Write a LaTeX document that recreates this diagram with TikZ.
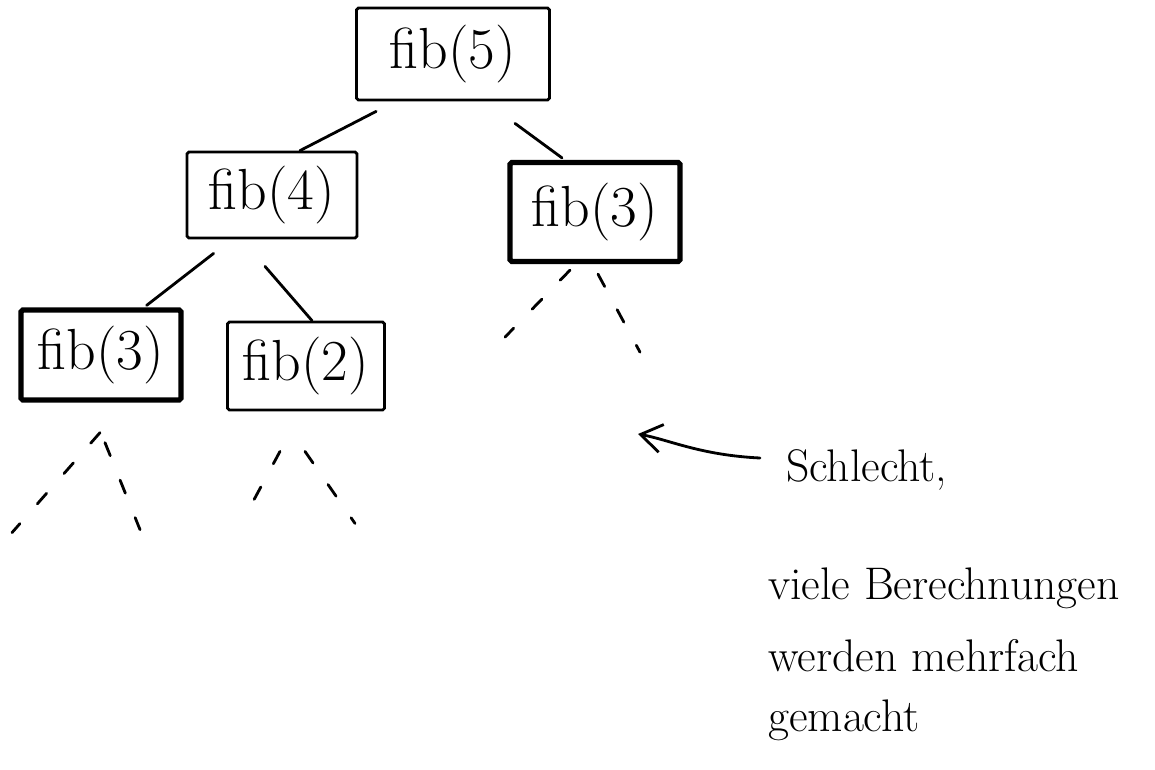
\documentclass[tikz,border=0pt]{standalone}
\usetikzlibrary{calc,arrows.meta}
\begin{document}
\begin{tikzpicture}[x=0.02cm,y=-0.02cm,
  callbox/.style={draw,line width=1.6pt,rounded corners=1pt,inner sep=0pt,font=\fontsize{33}{37}\selectfont},
  hot/.style={callbox,line width=3pt},
  edge/.style={line width=1.6pt,line cap=round},
  todo/.style={line width=1.6pt,line cap=round,dash pattern=on 8pt off 15pt},
  note/.style={anchor=west,font=\fontsize{26}{30}\selectfont}]
\useasboundingbox (0,0) rectangle (1155,769);
\node[callbox,minimum width=3.86cm,minimum height=1.84cm] (f5) at (453,54) {fib(5)};
\node[callbox,minimum width=3.4cm,minimum height=1.72cm] (f4) at (272,195) {fib(4)};
\node[hot,minimum width=3.4cm,minimum height=1.98cm] (f3r) at (595,212) {fib(3)};
\node[hot,minimum width=3.2cm,minimum height=1.8cm] (f3l) at (101,355) {fib(3)};
\node[callbox,minimum width=3.14cm,minimum height=1.76cm] (f2) at (306,366) {fib(2)};

\draw[edge] ($(f5.south west)+(21,10)$) -- ($(f4.north)+(28,0)$);
\draw[edge] ($(f5.south)+(62,22)$) -- ($(f3r.north)+(-33,-2)$);
\draw[edge] ($(f4.south west)+(28,14)$) -- ($(f3l.north east)+(-37,-2)$);
\draw[edge] ($(f4.south)+(-7,27)$) -- ($(f2.north)+(6,0)$);

\draw[todo] ($(f3r.south)+(-25,6)$) -- ($(f3r.south)+(-90,73)$);
\draw[todo] ($(f3r.south)+(3,10)$) -- ($(f3r.south)+(45,88)$);
\draw[todo] ($(f3l.south)+(-1,30)$) -- ($(f3l.south)+(-89,130)$);
\draw[todo] ($(f3l.south)+(4,40)$) -- ($(f3l.south)+(39,127)$);
\draw[todo] ($(f2.south)+(-26,40)$) -- ($(f2.south)+(-61,105)$);
\draw[todo] ($(f2.south)+(-1,40)$) -- ($(f2.south)+(49,112)$);

\node[note] (t1) at (780,470) {Schlecht,};
\node[note] (t2) at (762,588) {viele Berechnungen};
\node[note] (t3) at (762,656) {werden mehrfach};
\node[note] (t4) at (762,720) {gemacht};
\coordinate (tip) at (638,434);
\draw[edge,-{Straight Barb[length=12pt,width=16pt]}] ($(t1.west)+(-20,-12)$) .. controls (700,455) and (670,440) .. (tip);
\end{tikzpicture}
\end{document}
